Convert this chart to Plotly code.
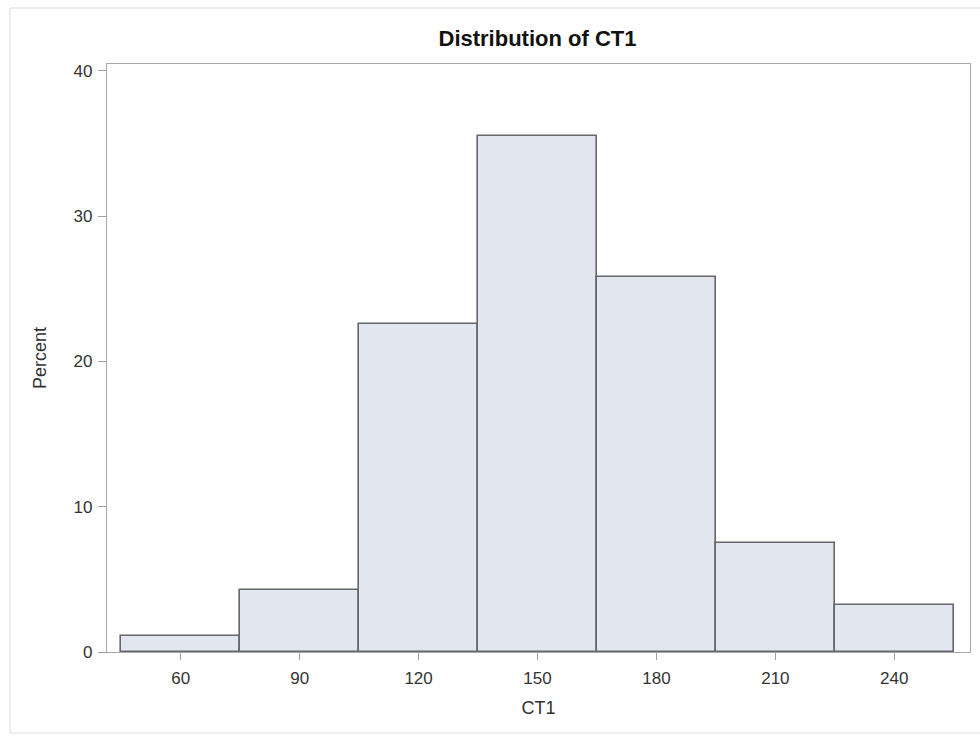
import plotly.graph_objects as go

# Histogram of CT1: bin midpoints (width 30) and percent of observations
bin_mid = [60, 90, 120, 150, 180, 210, 240]
percent = [1.08, 4.30, 22.58, 35.48, 25.81, 7.53, 3.23]
x_ticks = [60, 90, 120, 150, 180, 210, 240]
y_ticks = [0, 10, 20, 30, 40]
bin_width = 30

W, H = 980, 738
L, R, T, B = 107, 10, 64, 86

fig = go.Figure(
    go.Bar(
        x=bin_mid,
        y=percent,
        width=[bin_width] * len(bin_mid),
        marker=dict(color="#E1E6EF", line=dict(color="#66666B", width=1.6)),
        hoverinfo="x+y",
    )
)

font_family = "Liberation Sans, Arial, sans-serif"
tick_font = dict(family=font_family, size=17, color="#333333")
label_font = dict(family=font_family, size=18, color="#333333")

fig.update_layout(
    width=W,
    height=H,
    margin=dict(l=L, r=R, t=T, b=B),
    paper_bgcolor="white",
    plot_bgcolor="white",
    showlegend=False,
    bargap=0,
    title=dict(
        text="<b>Distribution of CT1</b>",
        font=dict(family=font_family, size=22, color="#111111"),
        x=537.5 / W,
        xanchor="center",
        xref="container",
        yref="container",
        y=1 - 38 / H,
        yanchor="middle",
    ),
)

fig.update_xaxes(
    range=[41.4, 259.1],
    tickvals=x_ticks,
    ticktext=[str(v) for v in x_ticks],
    ticks="outside",
    ticklen=7,
    tickwidth=1,
    tickcolor="#A0A0A0",
    tickfont=tick_font,
    ticklabelstandoff=3,
    showgrid=False,
    zeroline=False,
    showline=True,
    mirror=True,
    linecolor="#A8A8A8",
    linewidth=1.2,
    title=dict(text="CT1", font=label_font, standoff=14),
)

fig.update_yaxes(
    range=[0, 40.46],
    tickvals=y_ticks,
    ticktext=[str(v) for v in y_ticks],
    ticks="outside",
    ticklen=8,
    tickwidth=1,
    tickcolor="#A0A0A0",
    tickfont=tick_font,
    ticklabelstandoff=2,
    showgrid=False,
    zeroline=False,
    showline=True,
    mirror=True,
    linecolor="#A8A8A8",
    linewidth=1.2,
    title=dict(text="Percent", font=label_font, standoff=22),
)

# light outer frame around the graph area
pw, ph = W - L - R, H - T - B
fig.add_shape(
    type="rect",
    xref="paper",
    yref="paper",
    x0=(10 - L) / pw,
    x1=(W + 2 - L) / pw,
    y0=(H - B - 733) / ph,
    y1=(H - B - 8) / ph,
    line=dict(color="#DCDCDC", width=1),
    layer="below",
)

fig.write_html("out.html")
